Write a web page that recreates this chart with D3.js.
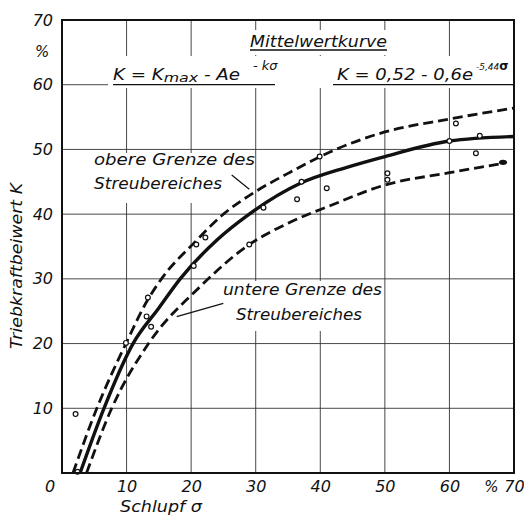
<!DOCTYPE html>
<html>
<head>
<meta charset="utf-8">
<script src="https://cdn.jsdelivr.net/npm/d3@7"></script>
<style>
  body { margin: 0; background: #fff; }
  svg text { font-family: "DejaVu Sans", sans-serif; font-style: italic; fill: #111; }
</style>
</head>
<body>
<div id="chart"></div>
<script>
// 1: DATA - slip sigma in %, traction coefficient K in %
const xTicks = [10, 20, 30, 40, 50, 60, 70];
const yTicks = [10, 20, 30, 40, 50, 60, 70];
const gridX = [10, 20, 30, 40, 50, 60];
const gridY = [10, 20, 30, 40, 50, 60];

// Mittelwertkurve (solid)
const meanCurve = [[2.8, 0], [6.5, 10], [11, 20], [15, 25.5], [18.3, 30], [24, 36], [29, 40],
    [37, 44.8], [44, 47.2], [50, 48.9], [60, 51.3], [70, 52]];
// obere Grenze des Streubereiches (dashed)
const upperBound = [[1.7, 0], [5.4, 10], [9.9, 20], [13.3, 26.8], [15.4, 30], [20.5, 35.6], [25, 40],
    [30, 43.5], [35, 46.3], [41.5, 49.6], [50, 52.7], [60, 54.7], [70, 56.4]];
// untere Grenze des Streubereiches (dashed)
const lowerBound = [[3.8, 0], [7.7, 10], [13.4, 20], [21.4, 28.8], [29, 35.3], [35, 38.6],
    [41.5, 41.3], [50, 44.5], [60, 46.4], [68, 47.8]];
// measured points (open circles)
const measured = [[2.1, 9.1], [2.4, 0.2], [9.9, 20.1], [13.3, 27.1], [13.1, 24.2], [13.8, 22.6],
    [20.4, 32.0], [20.8, 35.3], [22.2, 36.4], [29.0, 35.3], [31.2, 41.0], [36.4, 42.3],
    [37.1, 45.0], [41.0, 44.0], [39.9, 48.9], [61.0, 54.0], [60.0, 51.3], [64.7, 52.1],
    [64.1, 49.4], [50.4, 46.3], [50.4, 45.3]];
const blobPoint = [[68.3, 48.0]];

// 2: SVG SETUP
const margin = { top: 20, right: 10, bottom: 45, left: 62 };
const width = 524 - margin.left - margin.right;
const height = 518 - margin.top - margin.bottom;

const svg = d3.select("#chart")
    .append("svg")
    .attr("width", 524)
    .attr("height", 518)
    .append("g")
    .attr("transform", `translate(${margin.left},${margin.top})`);

// 3: SCALES
const x = d3.scaleLinear().domain([0, 70]).range([0, width]);
const y = d3.scaleLinear().domain([0, 70]).range([height, 0]);

// 4: GRID
svg.selectAll(".gx").data(gridX).enter().append("line")
    .attr("x1", d => x(d)).attr("x2", d => x(d))
    .attr("y1", 0).attr("y2", height)
    .attr("stroke", "#333").attr("stroke-width", 0.9);
svg.selectAll(".gy").data(gridY).enter().append("line")
    .attr("x1", 0).attr("x2", width)
    .attr("y1", d => y(d)).attr("y2", d => y(d))
    .attr("stroke", "#333").attr("stroke-width", 0.9);

// white boxes behind the annotations (the grid is interrupted there)
const boxes = [
    [183, 10, 147, 25],   // Mittelwertkurve
    [46, 36, 404, 32],    // formulas
    [26, 133, 160, 50],   // obere Grenze
    [156, 261, 165, 50]   // untere Grenze
];
svg.selectAll(".box").data(boxes).enter().append("rect")
    .attr("x", d => d[0]).attr("y", d => d[1])
    .attr("width", d => d[2]).attr("height", d => d[3])
    .attr("fill", "#fff");

// 5: CURVES
const line = d3.line()
    .x(d => x(d[0]))
    .y(d => y(d[1]))
    .curve(d3.curveMonotoneX);

svg.append("path").datum(upperBound)
    .attr("d", line).attr("fill", "none")
    .attr("stroke", "#111").attr("stroke-width", 2.8)
    .attr("stroke-dasharray", "10,5");
svg.append("path").datum(lowerBound)
    .attr("d", line).attr("fill", "none")
    .attr("stroke", "#111").attr("stroke-width", 2.8)
    .attr("stroke-dasharray", "10,5");
svg.append("path").datum(meanCurve)
    .attr("d", line).attr("fill", "none")
    .attr("stroke", "#111").attr("stroke-width", 3.4);

// measured points
svg.selectAll(".pt").data(measured).enter().append("circle")
    .attr("cx", d => x(d[0])).attr("cy", d => y(d[1]))
    .attr("r", 2.4)
    .attr("fill", "#fff").attr("stroke", "#111").attr("stroke-width", 1.2);
svg.selectAll(".blob").data(blobPoint).enter().append("ellipse")
    .attr("cx", d => x(d[0])).attr("cy", d => y(d[1]))
    .attr("rx", 4).attr("ry", 2.6).attr("fill", "#111");

// 6: FRAME + AXES
svg.append("rect")
    .attr("x", 0).attr("y", 0).attr("width", width).attr("height", height)
    .attr("fill", "none").attr("stroke", "#111").attr("stroke-width", 2);

const xAxis = svg.append("g")
    .attr("transform", `translate(0,${height})`)
    .call(d3.axisBottom(x).tickValues(xTicks).tickSize(0).tickPadding(8));
xAxis.select(".domain").remove();
xAxis.selectAll("text").style("font-size", "16px").style("font-family", "DejaVu Sans").style("font-style", "italic");

const yAxis = svg.append("g")
    .call(d3.axisLeft(y).tickValues(yTicks).tickSize(0).tickPadding(9));
yAxis.select(".domain").remove();
yAxis.selectAll("text").style("font-size", "16px").style("font-family", "DejaVu Sans").style("font-style", "italic");

// origin 0 and unit signs
svg.append("text").attr("x", x(0) - 12).attr("y", height + 19)
    .attr("text-anchor", "middle").style("font-size", "16px").text("0");
svg.append("text").attr("x", x(66.5)).attr("y", height + 19)
    .attr("text-anchor", "middle").style("font-size", "15px").text("%");
svg.append("text").attr("x", -20).attr("y", y(65) + 5)
    .attr("text-anchor", "middle").style("font-size", "15px").text("%");

// 7: LABELS
svg.append("text")
    .attr("x", 58).attr("y", height + 39)
    .attr("textLength", 82).attr("lengthAdjust", "spacingAndGlyphs")
    .style("font-size", "15px").text("Schlupf σ");

svg.append("text")
    .attr("transform", `translate(-40,${y(32)}) rotate(-90)`)
    .attr("text-anchor", "middle")
    .attr("textLength", 166).attr("lengthAdjust", "spacingAndGlyphs")
    .style("font-size", "15px").text("Triebkraftbeiwert K");

// title + formulas
svg.append("text").attr("x", 188).attr("y", 27)
    .attr("textLength", 137).attr("lengthAdjust", "spacingAndGlyphs")
    .style("font-size", "15px").text("Mittelwertkurve");
svg.append("line").attr("x1", 188).attr("x2", 325).attr("y1", 30).attr("y2", 30)
    .attr("stroke", "#111").attr("stroke-width", 1.3);

const f1 = svg.append("text").attr("x", 51).attr("y", 60)
    .attr("textLength", 127).attr("lengthAdjust", "spacingAndGlyphs")
    .style("font-size", "15px");
f1.append("tspan").text("K = K");
f1.append("tspan").style("font-size", "13px").attr("dy", 2).text("max");
f1.append("tspan").attr("dy", -2).text(" -  Ae");
svg.append("text").attr("x", 191).attr("y", 50)
    .style("font-size", "13px").text("- kσ");
svg.append("line").attr("x1", 51).attr("x2", 213).attr("y1", y(60)).attr("y2", y(60))
    .attr("stroke", "#111").attr("stroke-width", 1.3);

svg.append("text").attr("x", 275).attr("y", 60)
    .attr("textLength", 136).attr("lengthAdjust", "spacingAndGlyphs")
    .style("font-size", "15px").text("K = 0,52 - 0,6e");
const sup2 = svg.append("text").attr("x", 414).attr("y", 50)
    .style("font-size", "9px");
sup2.append("tspan").text("-5,44");
sup2.append("tspan").style("font-size", "12px").style("font-weight", "bold").style("font-style", "normal")
    .text("σ");
svg.append("line").attr("x1", 271).attr("x2", width).attr("y1", y(60)).attr("y2", y(60))
    .attr("stroke", "#111").attr("stroke-width", 1.3);

// scatter band annotations
svg.append("text").attr("x", 32).attr("y", 145)
    .attr("textLength", 161).attr("lengthAdjust", "spacingAndGlyphs")
    .style("font-size", "15px").text("obere Grenze des");
svg.append("text").attr("x", 32).attr("y", 169)
    .attr("textLength", 128).attr("lengthAdjust", "spacingAndGlyphs")
    .style("font-size", "15px").text("Streubereiches");
svg.append("line").attr("x1", 169.7).attr("y1", 155).attr("x2", 187.3).attr("y2", 169.3)
    .attr("stroke", "#111").attr("stroke-width", 1.2);

svg.append("text").attr("x", 161).attr("y", 275)
    .attr("textLength", 159).attr("lengthAdjust", "spacingAndGlyphs")
    .style("font-size", "15px").text("untere Grenze des");
svg.append("text").attr("x", 174).attr("y", 300)
    .attr("textLength", 126).attr("lengthAdjust", "spacingAndGlyphs")
    .style("font-size", "15px").text("Streubereiches");
svg.append("line").attr("x1", 114.7).attr("y1", 296.7).attr("x2", 161.3).attr("y2", 283.3)
    .attr("stroke", "#111").attr("stroke-width", 1.2);
</script>
</body>
</html>
